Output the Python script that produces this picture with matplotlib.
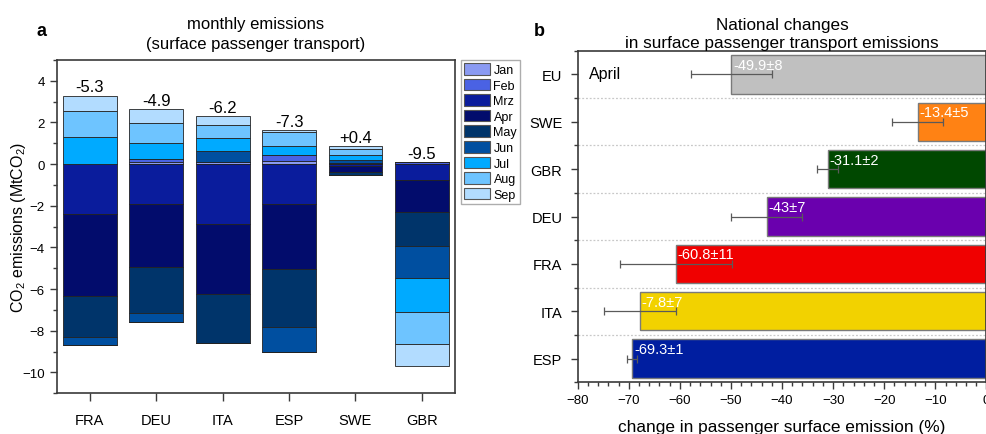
import numpy as np
import matplotlib
matplotlib.use("Agg")
import matplotlib.pyplot as plt
from matplotlib.patches import Patch
from matplotlib.ticker import MultipleLocator

plt.rcParams['font.family'] = ['Liberation Sans', 'DejaVu Sans']
plt.rcParams['mathtext.fontset'] = 'custom'
plt.rcParams['mathtext.rm'] = 'Liberation Sans'
plt.rcParams['mathtext.default'] = 'regular'

# ---------------- data: panel a ----------------
countries = ["FRA", "DEU", "ITA", "ESP", "SWE", "GBR"]
months = ["Jan", "Feb", "Mrz", "Apr", "May", "Jun", "Jul", "Aug", "Sep"]
jan = [0.00, 0.12, 0.08, 0.14, 0.07, 0.00]
feb = [0.00, 0.14, 0.00, 0.31, 0.00, 0.10]
mrz = [-2.37, -1.89, -2.85, -1.89, -0.10, -0.74]
apr = [-3.98, -3.06, -3.40, -3.14, -0.30, -1.57]
may = [-1.97, -2.19, -2.34, -2.79, -0.10, -1.60]
jun = [-0.35, -0.42, 0.55, -1.20, 0.12, -1.55]
jul = [1.28, 0.77, 0.62, 0.40, 0.23, -1.64]
aug = [1.25, 0.93, 0.61, 0.69, 0.32, -1.53]
sep = [0.76, 0.67, 0.45, 0.09, 0.13, -1.08]
total_labels = ["-5.3", "-4.9", "-6.2", "-7.3", "+0.4", "-9.5"]
month_colors = ["#8a9af2", "#4a62e4", "#0a1c9c", "#020c6c", "#00346a",
                "#004fa0", "#00aaff", "#6ec4ff", "#b2dcff"]

# ---------------- data: panel b ----------------
regions = ["EU", "SWE", "GBR", "DEU", "FRA", "ITA", "ESP"]
changes = [-49.9, -13.4, -31.1, -43.0, -60.8, -67.8, -69.3]
errors = [8, 5, 2, 7, 11, 7, 1]
change_labels = ["-49.9±8", "-13.4±5", "-31.1±2", "-43±7", "-60.8±11", "-7.8±7", "-69.3±1"]
region_colors = ["#c0c0c0", "#ff8214", "#004800", "#6a00ae", "#f00000", "#f2d200", "#001ea0"]

W, H = 987, 435
fig = plt.figure(figsize=(W / 100, H / 100), dpi=100)

def frac(x0, y0, x1, y1):
    return [x0 / W, 1 - y1 / H, (x1 - x0) / W, (y1 - y0) / H]

spine_c = "#3a3a3a"

# ---------------- panel a ----------------
ax = fig.add_axes(frac(56.7, 61, 455, 394.3))
data = [jan, feb, mrz, apr, may, jun, jul, aug, sep]
x = np.arange(len(countries))
pos_bot = np.zeros(len(countries))
neg_bot = np.zeros(len(countries))
handles = []
for m, vals, col in zip(months, data, month_colors):
    vals = np.array(vals)
    pos = np.where(vals > 0, vals, 0)
    neg = np.where(vals < 0, vals, 0)
    ax.bar(x, pos, 0.81, bottom=pos_bot, color=col, edgecolor="#222222", linewidth=0.6)
    ax.bar(x, neg, 0.81, bottom=neg_bot, color=col, edgecolor="#222222", linewidth=0.6)
    pos_bot += pos
    neg_bot += neg
    handles.append(Patch(facecolor=col, edgecolor="#555555", linewidth=0.8, label=m))

for xi, top, lab in zip(x, pos_bot, total_labels):
    ax.annotate(lab, (xi, top), xytext=(0, 1), textcoords="offset points",
                ha="center", va="bottom", fontsize=12)

ax.set_xlim(-0.5, 5.5)
ax.set_ylim(-11, 5)
ax.set_xticks(x)
ax.set_xticklabels(countries, fontsize=10.5)
ax.yaxis.set_major_locator(MultipleLocator(2))
ax.yaxis.set_minor_locator(MultipleLocator(1))
ax.set_yticks(np.arange(-10, 5, 2))
ax.tick_params(axis="y", which="major", direction="out", length=5, width=1, labelsize=9.5, color=spine_c)
ax.tick_params(axis="y", which="minor", direction="out", length=3, width=1, color=spine_c)
ax.tick_params(axis="x", which="major", direction="out", length=6, width=1, pad=8, color=spine_c)
for s in ax.spines.values():
    s.set_color(spine_c)
    s.set_linewidth(1.2)
ax.set_ylabel("CO$_2$ emissions (MtCO$_2$)", fontsize=11.5)
ax.yaxis.set_label_coords(-0.072, 0.5)
ax.set_title("monthly emissions\n(surface passenger transport)", fontsize=12, pad=9, linespacing=1.35)

leg = ax.legend(handles=handles, loc="upper left", bbox_to_anchor=(1.015, 1.0),
                fontsize=9, frameon=True, fancybox=False, edgecolor="#999999",
                handlelength=2.1, handleheight=1.05, labelspacing=0.2,
                handletextpad=0.25, borderpad=0.25, borderaxespad=0)
leg.get_frame().set_linewidth(1.0)

fig.text(37 / W, 1 - 32 / H, "a", fontsize=13, fontweight="bold", ha="left", va="center")

# ---------------- panel b ----------------
bx = fig.add_axes(frac(577.7, 51.7, 986.4, 383.3))
yy = np.arange(len(regions))[::-1]
bx.barh(yy, changes, height=0.81, color=region_colors, edgecolor="#7a7a7a", linewidth=1.0, zorder=2)
bx.errorbar(changes, yy, xerr=errors, fmt="none", ecolor="#5a5a5a", elinewidth=0.9,
            capsize=3, capthick=0.9, zorder=3)
for yi, v, lab in zip(yy, changes, change_labels):
    bx.text(v + 0.3, yi + 0.2, lab, color="white", fontsize=10.5, ha="left", va="center", zorder=4)
for g in np.arange(0.5, 6.0, 1.0):
    bx.axhline(g, color="#c8c8c8", linestyle=(0, (1.5, 1.5)), linewidth=0.9, zorder=1)

bx.set_xlim(-80, 0)
bx.set_ylim(-0.5, 6.5)
bx.set_yticks(yy)
bx.set_yticklabels(regions, fontsize=10.5)
bx.yaxis.set_minor_locator(MultipleLocator(1, offset=0.5))
bx.xaxis.set_major_locator(MultipleLocator(10))
bx.xaxis.set_minor_locator(MultipleLocator(2))
bx.tick_params(axis="both", which="major", direction="out", length=5, width=1, color=spine_c)
bx.tick_params(axis="both", which="minor", direction="out", length=3, width=1, color=spine_c)
bx.tick_params(axis="x", labelsize=9.5)
bx.tick_params(axis="y", pad=6)
for s in bx.spines.values():
    s.set_color(spine_c)
    s.set_linewidth(1.2)
bx.set_xlabel("change in passenger surface emission (%)", fontsize=12.4, labelpad=9)
bx.set_title("National changes\nin surface passenger transport emissions", fontsize=12.3, pad=3, linespacing=1.25)
bx.text(0.027, 0.955, "April", transform=bx.transAxes, fontsize=11.5, ha="left", va="top")

fig.text(534 / W, 1 - 32 / H, "b", fontsize=13, fontweight="bold", ha="left", va="center")

fig.savefig("out.png", dpi=100)
